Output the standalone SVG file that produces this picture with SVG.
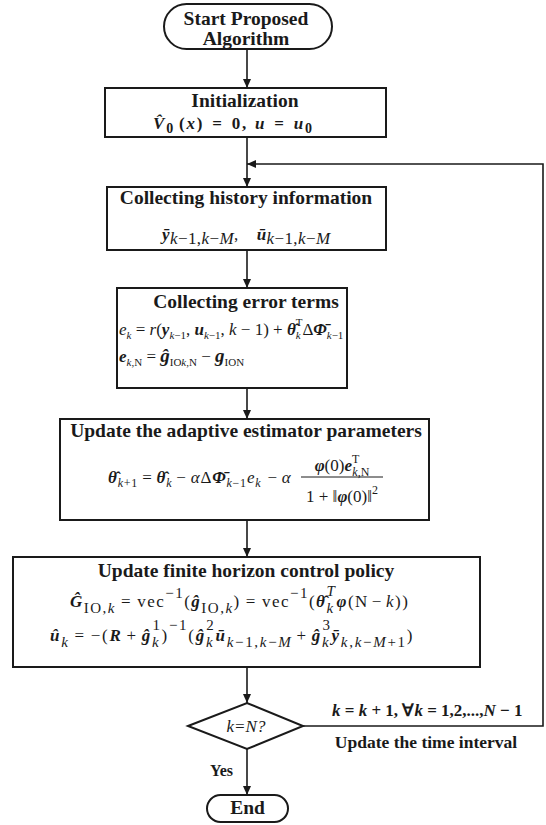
<svg xmlns="http://www.w3.org/2000/svg" width="546" height="825" viewBox="0 0 546 825">
<defs>
<marker id="ah" viewBox="0 0 9 8" refX="9" refY="4" markerWidth="9" markerHeight="8" markerUnits="userSpaceOnUse" orient="auto"><path d="M0,0 L9,4 L0,8 z" fill="#1a1a1a"/></marker>
<style>
.box{fill:#fff;stroke:#1a1a1a;stroke-width:2}
.ln{fill:none;stroke:#1a1a1a;stroke-width:1.6;marker-end:url(#ah)}
.frac{stroke:#1a1a1a;stroke-width:1}
.t{font-family:"Liberation Serif","Times New Roman",serif;font-weight:bold;font-size:19.5px;fill:#1a1a1a;text-anchor:middle}
.m{font-family:"Liberation Serif","Times New Roman",serif;font-size:17px;fill:#1a1a1a}
.i{font-style:italic}
.b{font-weight:bold}
.bi{font-style:italic;font-weight:bold}
.s{font-size:11px}
.s12{font-size:12px}
.s3{font-size:15px}
</style>
</defs>
<rect width="546" height="825" fill="#fff"/>

<g id="start"><rect class="box" x="164" y="4" width="168" height="45" rx="22.5"/><text class="t" x="246" y="25">Start Proposed</text><text class="t" x="246" y="45">Algorithm</text></g>

<g id="init"><rect class="box" x="105" y="88" width="281" height="49"/><text class="t" x="245" y="107">Initialization</text><text class="m b" x="153" y="129" font-size="23" letter-spacing="1.8"><tspan class="i">V&#x302;</tspan><tspan font-size="14" dy="4">0</tspan><tspan dy="-4" dx="4">(</tspan><tspan class="i">x</tspan><tspan>)</tspan><tspan dx="8">=</tspan><tspan dx="8">0,</tspan><tspan dx="7" class="i">u</tspan><tspan dx="8">=</tspan><tspan dx="8" class="i">u</tspan><tspan font-size="14" dy="4">0</tspan></text></g>

<g id="history"><rect class="box" x="107" y="187" width="279" height="63"/><text class="t" x="246" y="204">Collecting history information</text><text class="m" x="162" y="240" font-size="23" letter-spacing="0.4"><tspan class="bi">y&#x304;</tspan><tspan font-size="17" dy="4"><tspan class="i">k</tspan>−1,<tspan class="i">k</tspan>−<tspan class="i">M</tspan></tspan><tspan dy="-4">,</tspan><tspan class="bi" dx="18">ū</tspan><tspan font-size="17" dy="4"><tspan class="i">k</tspan>−1,<tspan class="i">k</tspan>−<tspan class="i">M</tspan></tspan></text></g>

<g id="errors"><rect class="box" x="117" y="288" width="230" height="100"/><text class="t" x="246" y="308">Collecting error terms</text><text class="m" x="119" y="335"><tspan class="i">e</tspan><tspan class="s i" dy="4">k</tspan><tspan dy="-4"> = </tspan><tspan class="i">r</tspan><tspan>(</tspan><tspan class="bi">y</tspan><tspan class="s i" dy="4">k</tspan><tspan class="s">−1</tspan><tspan dy="-4">, </tspan><tspan class="bi">u</tspan><tspan class="s i" dy="4">k</tspan><tspan class="s">−1</tspan><tspan dy="-4">, </tspan><tspan class="i">k</tspan><tspan> − 1) + </tspan><tspan class="bi">θ&#x302;</tspan><tspan class="s i" dy="4">k</tspan><tspan class="s" dx="-5" dy="-13">T</tspan><tspan dy="9">Δ</tspan><tspan class="bi">Φ&#x304;</tspan><tspan class="s i" dy="4">k</tspan><tspan class="s">−1</tspan></text><text class="m" x="119" y="362"><tspan class="bi">e</tspan><tspan class="s" dy="4"><tspan class="i">k</tspan>,N</tspan><tspan dy="-4"> = </tspan><tspan class="bi" font-size="19">ĝ</tspan><tspan class="s" dy="4">IO<tspan class="i">k</tspan>,N</tspan><tspan dy="-4"> − </tspan><tspan class="bi" font-size="19">g</tspan><tspan class="s" dy="4">ION</tspan></text></g>

<g id="estimator"><rect class="box" x="60" y="419" width="369" height="101"/><text class="t" x="246" y="437">Update the adaptive estimator parameters</text><text class="m" x="108" y="483" font-size="18" letter-spacing="0.8"><tspan class="bi">θ&#x302;</tspan><tspan class="s12" dy="4"><tspan class="i">k</tspan>+1</tspan><tspan dy="-4" dx="4">=</tspan><tspan dx="4" class="bi">θ&#x302;</tspan><tspan class="s12 i" dy="4">k</tspan><tspan dy="-4" dx="4">−</tspan><tspan dx="4" class="i">α</tspan><tspan>Δ</tspan><tspan class="bi">Φ&#x304;</tspan><tspan class="s12" dy="4"><tspan class="i">k</tspan>−1</tspan><tspan class="i" dy="-4">e</tspan><tspan class="s12 i" dy="4">k</tspan><tspan dy="-4" dx="6">−</tspan><tspan dx="4" class="i">α</tspan></text><text class="m" x="342" y="471" font-size="18" text-anchor="middle"><tspan class="bi">φ</tspan><tspan>(0)</tspan><tspan class="bi">e</tspan><tspan class="s12" dy="-8.5">T</tspan><tspan class="s12" dx="-7" dy="13.5"><tspan class="i">k</tspan>,N</tspan></text><line class="frac" x1="301" y1="477" x2="383" y2="477"/><text class="m" x="342" y="502" font-size="18" text-anchor="middle"><tspan>1 + ‖</tspan><tspan class="bi">φ</tspan><tspan>(0)‖</tspan><tspan class="s12" dy="-8">2</tspan></text></g>

<g id="control"><rect class="box" x="13" y="557" width="467" height="110"/><text class="t" x="246" y="577">Update finite horizon control policy</text><text class="m" x="70" y="607" font-size="23" letter-spacing="1.5"><tspan class="bi">Ĝ</tspan><tspan class="s3" dy="6">IO,<tspan class="i">k</tspan></tspan><tspan dy="-6" dx="5">=</tspan><tspan dx="5">vec</tspan><tspan class="s3" dy="-9">−1</tspan><tspan dy="9">(</tspan><tspan class="bi">ĝ</tspan><tspan class="s3" dy="6">IO,<tspan class="i">k</tspan></tspan><tspan dy="-6">)</tspan><tspan dx="5">=</tspan><tspan dx="5">vec</tspan><tspan class="s3" dy="-9">−1</tspan><tspan dy="9">(</tspan><tspan class="bi">θ&#x302;</tspan><tspan class="s3 i" dy="6">k</tspan><tspan class="s3 i" dx="-8" dy="-17">T</tspan><tspan class="bi" dy="11">φ</tspan><tspan>(N</tspan><tspan dx="3">−</tspan><tspan dx="3" class="i">k</tspan><tspan>))</tspan></text><text class="m" x="50" y="641" font-size="23" letter-spacing="1.7"><tspan class="bi">û</tspan><tspan class="s3 i" dy="6">k</tspan><tspan dy="-6" dx="5">=</tspan><tspan dx="5">−(</tspan><tspan class="bi">R</tspan><tspan dx="4">+</tspan><tspan dx="4" class="bi">ĝ</tspan><tspan class="s3 i" dy="6">k</tspan><tspan class="s3" dx="-8" dy="-17">1</tspan><tspan dy="11">)</tspan><tspan class="s3" dy="-11">−1</tspan><tspan dy="11">(</tspan><tspan class="bi">ĝ</tspan><tspan class="s3 i" dy="6">k</tspan><tspan class="s3" dx="-8" dy="-17">2</tspan><tspan class="bi" dy="11">ū</tspan><tspan class="s3" dy="6"><tspan class="i">k</tspan>−1,<tspan class="i">k</tspan>−<tspan class="i">M</tspan></tspan><tspan dy="-6" dx="4">+</tspan><tspan dx="4" class="bi">ĝ</tspan><tspan class="s3 i" dy="6">k</tspan><tspan class="s3" dx="-8" dy="-17">3</tspan><tspan class="bi" dy="11">y&#x304;</tspan><tspan class="s3" dy="6"><tspan class="i">k</tspan>,<tspan class="i">k</tspan>−<tspan class="i">M</tspan>+1</tspan><tspan dy="-6">)</tspan></text></g>

<g id="decision"><polygon class="box" points="188,726 247,703 303,726 247,749"/><text class="m i" x="246" y="732" text-anchor="middle">k=N?</text></g>

<g id="end"><rect class="box" x="207" y="795" width="81" height="27" rx="13.5"/><text class="t" x="247.5" y="814" font-size="18.5">End</text></g>

<g id="connectors">
<line class="ln" x1="247" y1="49" x2="247" y2="88"/>
<line class="ln" x1="247" y1="137" x2="247" y2="187"/>
<line class="ln" x1="247" y1="250" x2="247" y2="288"/>
<line class="ln" x1="247" y1="388" x2="247" y2="419"/>
<line class="ln" x1="247" y1="520" x2="247" y2="557"/>
<line class="ln" x1="247" y1="667" x2="247" y2="703"/>
<line class="ln" x1="247" y1="749" x2="247" y2="795"/>
<polyline class="ln" points="303,726 543,726 543,164 247,164"/>
<text class="t" x="233" y="776" style="font-size:16px;text-anchor:end">Yes</text>
<text class="m b" x="332" y="716" font-size="18"><tspan class="i">k</tspan> = <tspan class="i">k</tspan> + 1, ∀<tspan class="i">k</tspan> = 1,2,...,<tspan class="i">N</tspan> − 1</text>
<text class="t" x="426" y="748" style="font-size:17.5px">Update the time interval</text>
</g>
</svg>
